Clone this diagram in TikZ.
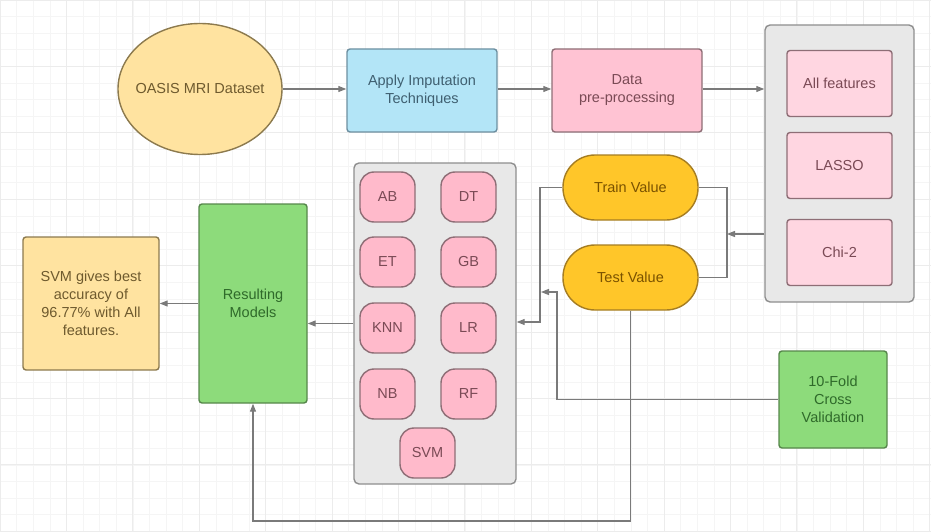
\documentclass[tikz,border=0pt]{standalone}
\usepackage{fontspec}
\setmainfont{Liberation Sans}
\usepackage{tikz}
\usetikzlibrary{arrows.meta,positioning,calc,shapes.geometric}

\definecolor{gridminor}{HTML}{F5F5F5}
\definecolor{gridmajor}{HTML}{ECECEC}
\definecolor{linegray}{HTML}{7A7A7A}
\definecolor{yellowfill}{HTML}{FFE3A0}
\definecolor{yellowline}{HTML}{8C7A4E}
\definecolor{yellowtext}{HTML}{6E5A2E}
\definecolor{bluefill}{HTML}{B3E5F7}
\definecolor{blueline}{HTML}{6D8FA0}
\definecolor{bluetext}{HTML}{3F5F70}
\definecolor{pinkfill}{HTML}{FFC3D3}
\definecolor{pinklight}{HTML}{FFD6E1}
\definecolor{pinkpill}{HTML}{FFBACB}
\definecolor{pinkline}{HTML}{8E6E76}
\definecolor{pinktext}{HTML}{7A4A55}
\definecolor{groupfill}{HTML}{E8E8E8}
\definecolor{groupline}{HTML}{8E8E8E}
\definecolor{orangefill}{HTML}{FFC629}
\definecolor{orangeline}{HTML}{A57D22}
\definecolor{orangetext}{HTML}{7A5200}
\definecolor{greenfill}{HTML}{8DDB7B}
\definecolor{greenline}{HTML}{56874B}
\definecolor{greentext}{HTML}{2F6A2A}

\begin{document}
\begin{tikzpicture}[x=1pt, y=-1pt,
    every node/.style={font=\fontsize{14.5}{18}\selectfont, align=center, inner sep=2pt},
    box/.style={draw, rectangle, rounded corners=3pt, line width=1.4pt},
    group/.style={box, fill=groupfill, draw=groupline, rounded corners=5pt},
    feat/.style={box, fill=pinklight, draw=pinkline, text=pinktext,
        minimum width=105pt, minimum height=66pt},
    model/.style={box, fill=pinkpill, draw=pinkline, text=pinktext, rounded corners=14pt,
        minimum width=55pt, minimum height=50pt},
    split/.style={box, fill=orangefill, draw=orangeline, text=orangetext, rounded corners=32pt,
        minimum width=135pt, minimum height=65pt},
    greenbox/.style={box, fill=greenfill, draw=greenline, text=greentext},
    arr/.style={-{Triangle[length=8pt,width=6pt]}, draw=linegray, line width=1.1pt}]

    \useasboundingbox (0,0) rectangle (931,532);

    % background grid
    \foreach \gx in {0,16.6,...,931} \draw[gridminor, line width=0.6pt] (\gx,0) -- (\gx,532);
    \foreach \gy in {0,16.6,...,532} \draw[gridminor, line width=0.6pt] (0,\gy) -- (931,\gy);
    \foreach \gx in {0,66.4,...,931} \draw[gridmajor, line width=0.8pt] (\gx,0) -- (\gx,532);
    \foreach \gy in {0,66.4,...,532} \draw[gridmajor, line width=0.8pt] (0,\gy) -- (931,\gy);

    % top row
    \node[ellipse, draw=yellowline, fill=yellowfill, text=yellowtext, line width=1.4pt, inner sep=-10pt,
        minimum width=164pt, minimum height=131pt] (data) at (200,89) {OASIS MRI Dataset};
    \node[box, fill=bluefill, draw=blueline, text=bluetext,
        minimum width=150pt, minimum height=83pt] (imput) at (422,90.5) {Apply Imputation\\Techniques};
    \node[box, fill=pinkfill, draw=pinkline, text=pinktext,
        minimum width=150pt, minimum height=83pt] (prep) at (627,90.5) {Data\\pre-processing};

    % feature selection
    \node[group, minimum width=149pt, minimum height=277pt] (featgrp) at (839.5,163.5) {};
    \node[feat] (allf) at (839.5,83.5) {All features};
    \node[feat] (lasso) at (839.5,165.5) {LASSO};
    \node[feat] (chi) at (839.5,252.5) {Chi-2};

    % train / test split
    \node[split] (train) at (630.5,187.5) {Train Value};
    \node[split] (test) at (630.5,277.5) {Test Value};

    % classifiers
    \node[group, minimum width=162pt, minimum height=321pt] (modgrp) at (435,323.5) {};
    \node[model] (ab) at (387.5,197) {AB};
    \node[model] (dt) at (468.5,197) {DT};
    \node[model] (et) at (387.5,262) {ET};
    \node[model] (gb) at (468.5,262) {GB};
    \node[model] (knn) at (387.5,328) {KNN};
    \node[model] (lr) at (468.5,328) {LR};
    \node[model] (nb) at (387.5,394) {NB};
    \node[model] (rf) at (468.5,394) {RF};
    \node[model] (svm) at (427.5,453) {SVM};

    % results
    \node[greenbox, minimum width=108pt, minimum height=199pt] (result) at (253,303.5) {Resulting\\Models};
    \node[box, fill=yellowfill, draw=yellowline, text=yellowtext,
        minimum width=136pt, minimum height=133pt] (best) at (91,303.5)
        {SVM gives best\\accuracy of\\96.77\% with All\\features.};
    \node[greenbox, minimum width=108pt, minimum height=97pt] (cv) at (833,399.5) {10-Fold\\Cross\\Validation};

    % connectors
    \coordinate (junc) at (727,234);
    \coordinate (fork) at (540,322);
    \coordinate (cvturn) at (557,292);
    \coordinate (cvtip) at (541,292);
    \coordinate (low) at (0,521);

    \draw[arr] (data.east) -- (data.east -| imput.west);
    \draw[arr] (data.east -| imput.east) -- (data.east -| prep.west);
    \draw[arr] (data.east -| prep.east) -- (data.east -| featgrp.west);
    \draw[arr] (featgrp.west |- junc) -- (junc);
    \draw[linegray, line width=1.1pt] (train.east) -| (junc) |- (test.east);
    \draw[arr] (train.west) -| (fork) -- (fork -| modgrp.east);
    \draw[arr] (cv.west) -| (cvturn) -- (cvtip);
    \draw[arr] (modgrp.west) -- (modgrp.west -| result.east);
    \draw[arr] (result) -- (best);
    \draw[arr] (test.south) -- (test.south |- low) -| (result.south);
\end{tikzpicture}
\end{document}
